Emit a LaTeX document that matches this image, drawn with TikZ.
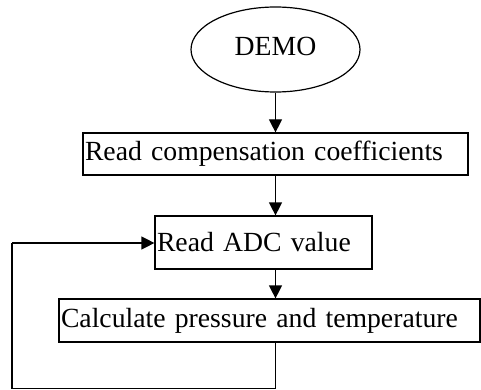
\documentclass[tikz,border=0pt]{standalone}
\usepackage{fontspec}
\setmainfont{Liberation Serif}
\usetikzlibrary{shapes.geometric,arrows.meta}
\begin{document}
\begin{tikzpicture}[x=1pt,y=-1pt,
  every node/.style={font=\fontsize{27.7}{30}\selectfont},
  boxst/.style={draw,line width=1.2pt,rectangle,inner xsep=2pt,inner ysep=0pt,align=left},
  conn/.style={line width=1.2pt,-{Triangle[length=13pt,width=13pt]}},
  plain/.style={line width=1.2pt}]
\useasboundingbox (0,0) rectangle (481,390);
\node[draw,line width=1.2pt,ellipse,minimum width=169pt,minimum height=85pt,inner sep=0pt] (demo) at (275.5,49.5) {\raisebox{6pt}{DEMO}};
\node[boxst,minimum width=385pt,minimum height=42pt,text width=381pt] (b1) at (275.5,154) {Read compensation coefficients};
\node[boxst,minimum width=217pt,minimum height=53pt,text width=213pt] (b2) at (263.5,242.5) {\raisebox{2pt}{Read ADC value}};
\node[boxst,minimum width=421pt,minimum height=43pt,text width=417pt] (b3) at (269.5,320.5) {Calculate pressure and temperature};
\coordinate (c1) at (275.5,388.5);
\coordinate (c2) at (12,388.5);
\coordinate (c3) at (12,243);
\draw[conn] (demo.south) -- (demo.south |- b1.north);
\draw[conn] (b1.south -| demo.south) -- (demo.south |- b2.north);
\draw[conn] (b2.south -| demo.south) -- (demo.south |- b3.north);
\draw[plain] (b3.south -| demo.south) -- (c1) -- (c2) -- (c3);
\draw[conn] (c3) -- (c3 -| b2.west);
\end{tikzpicture}
\end{document}
